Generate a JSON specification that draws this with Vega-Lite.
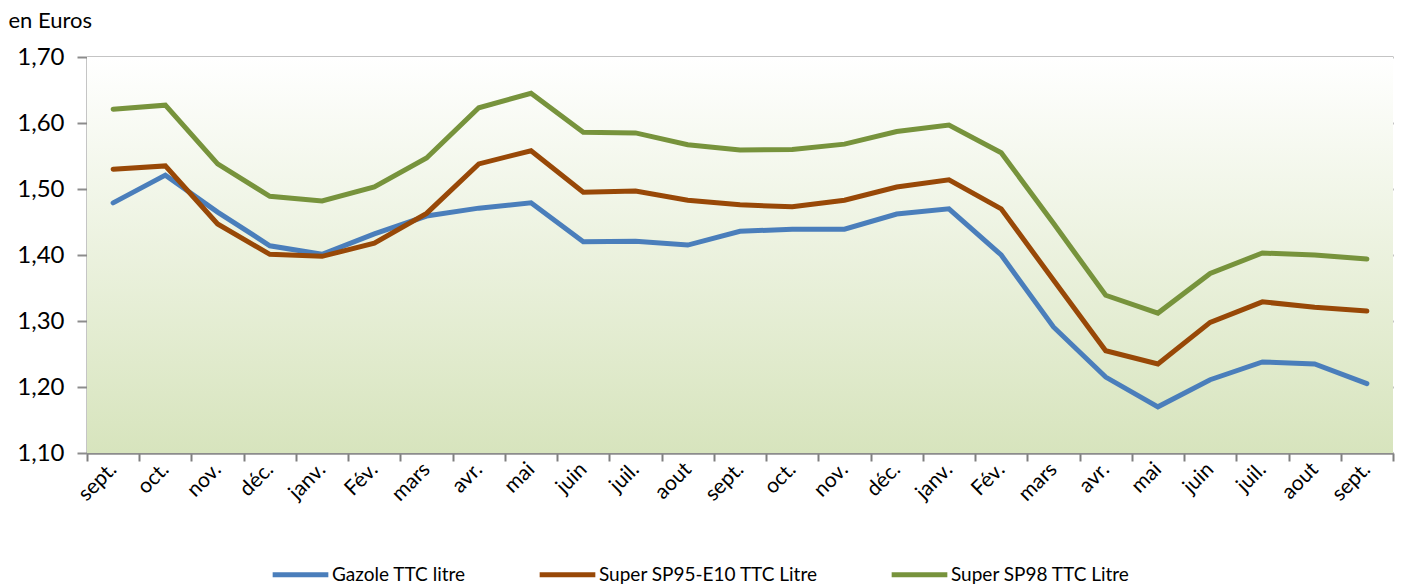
{
  "$schema": "https://vega.github.io/schema/vega-lite/v6.json",
  "width": 1306,
  "height": 396,
  "autosize": {"type": "none"},
  "padding": {"left": 87, "top": 57, "right": 9, "bottom": 133},
  "background": "white",
  "config": {
    "view": {"stroke": null},
    "font": "Lato"
  },
  "datasets": {
    "prix": [
      {"k": "sept.|0", "Gazole TTC litre": 1.479, "Super SP95-E10 TTC Litre": 1.530, "Super SP98 TTC Litre": 1.621},
      {"k": "oct.|1", "Gazole TTC litre": 1.521, "Super SP95-E10 TTC Litre": 1.535, "Super SP98 TTC Litre": 1.627},
      {"k": "nov.|2", "Gazole TTC litre": 1.465, "Super SP95-E10 TTC Litre": 1.447, "Super SP98 TTC Litre": 1.538},
      {"k": "déc.|3", "Gazole TTC litre": 1.414, "Super SP95-E10 TTC Litre": 1.401, "Super SP98 TTC Litre": 1.489},
      {"k": "janv.|4", "Gazole TTC litre": 1.401, "Super SP95-E10 TTC Litre": 1.398, "Super SP98 TTC Litre": 1.482},
      {"k": "Fév.|5", "Gazole TTC litre": 1.432, "Super SP95-E10 TTC Litre": 1.418, "Super SP98 TTC Litre": 1.503},
      {"k": "mars|6", "Gazole TTC litre": 1.459, "Super SP95-E10 TTC Litre": 1.463, "Super SP98 TTC Litre": 1.547},
      {"k": "avr.|7", "Gazole TTC litre": 1.471, "Super SP95-E10 TTC Litre": 1.538, "Super SP98 TTC Litre": 1.623},
      {"k": "mai|8", "Gazole TTC litre": 1.479, "Super SP95-E10 TTC Litre": 1.558, "Super SP98 TTC Litre": 1.645},
      {"k": "juin|9", "Gazole TTC litre": 1.420, "Super SP95-E10 TTC Litre": 1.495, "Super SP98 TTC Litre": 1.586},
      {"k": "juil.|10", "Gazole TTC litre": 1.421, "Super SP95-E10 TTC Litre": 1.497, "Super SP98 TTC Litre": 1.585},
      {"k": "aout|11", "Gazole TTC litre": 1.415, "Super SP95-E10 TTC Litre": 1.483, "Super SP98 TTC Litre": 1.567},
      {"k": "sept.|12", "Gazole TTC litre": 1.436, "Super SP95-E10 TTC Litre": 1.476, "Super SP98 TTC Litre": 1.559},
      {"k": "oct.|13", "Gazole TTC litre": 1.439, "Super SP95-E10 TTC Litre": 1.473, "Super SP98 TTC Litre": 1.560},
      {"k": "nov.|14", "Gazole TTC litre": 1.439, "Super SP95-E10 TTC Litre": 1.483, "Super SP98 TTC Litre": 1.568},
      {"k": "déc.|15", "Gazole TTC litre": 1.462, "Super SP95-E10 TTC Litre": 1.503, "Super SP98 TTC Litre": 1.587},
      {"k": "janv.|16", "Gazole TTC litre": 1.470, "Super SP95-E10 TTC Litre": 1.514, "Super SP98 TTC Litre": 1.597},
      {"k": "Fév.|17", "Gazole TTC litre": 1.400, "Super SP95-E10 TTC Litre": 1.470, "Super SP98 TTC Litre": 1.555},
      {"k": "mars|18", "Gazole TTC litre": 1.291, "Super SP95-E10 TTC Litre": 1.362, "Super SP98 TTC Litre": 1.448},
      {"k": "avr.|19", "Gazole TTC litre": 1.215, "Super SP95-E10 TTC Litre": 1.255, "Super SP98 TTC Litre": 1.339},
      {"k": "mai|20", "Gazole TTC litre": 1.170, "Super SP95-E10 TTC Litre": 1.235, "Super SP98 TTC Litre": 1.312},
      {"k": "juin|21", "Gazole TTC litre": 1.211, "Super SP95-E10 TTC Litre": 1.298, "Super SP98 TTC Litre": 1.372},
      {"k": "juil.|22", "Gazole TTC litre": 1.238, "Super SP95-E10 TTC Litre": 1.329, "Super SP98 TTC Litre": 1.403},
      {"k": "aout|23", "Gazole TTC litre": 1.235, "Super SP95-E10 TTC Litre": 1.321, "Super SP98 TTC Litre": 1.400},
      {"k": "sept.|24", "Gazole TTC litre": 1.205, "Super SP95-E10 TTC Litre": 1.315, "Super SP98 TTC Litre": 1.394}
    ]
  },
  "layer": [
    {
      "data": {"values": [{"lo": 1.1, "hi": 1.7}]},
      "mark": {
        "type": "rect",
        "fill": {
          "gradient": "linear", "x1": 0, "y1": 0, "x2": 0, "y2": 1,
          "stops": [
            {"offset": 0, "color": "#ffffff"},
            {"offset": 1, "color": "#d7e4bd"}
          ]
        }
      },
      "encoding": {
        "y": {"field": "lo", "type": "quantitative"},
        "y2": {"field": "hi"}
      }
    },
    {
      "data": {"name": "prix"},
      "transform": [
        {"fold": ["Gazole TTC litre", "Super SP95-E10 TTC Litre", "Super SP98 TTC Litre"], "as": ["serie", "prix"]}
      ],
      "mark": {"type": "line", "strokeWidth": 5, "strokeCap": "round", "strokeJoin": "miter"},
      "encoding": {
        "x": {
          "field": "k", "type": "ordinal", "sort": null,
          "bandPosition": 0.5,
          "scale": {"type": "band", "paddingInner": 0, "paddingOuter": 0},
          "axis": {
            "orient": "bottom",
            "title": null,
            "tickBand": "extent",
            "ticks": true,
            "tickSize": 8,
            "tickWidth": 2,
            "tickColor": "#7f7f7f",
            "tickOpacity": 1,
            "domain": true,
            "domainColor": "#8c8c8c",
            "domainWidth": 2,
            "grid": false,
            "labelExpr": "datum.value ? split(datum.value, '|')[0] : ''",
            "labelAngle": -45,
            "labelAlign": "right",
            "labelBaseline": "middle",
            "labelFontSize": 21,
            "labelColor": "#000000",
            "labelPadding": 5,
            "labelFont": "Lato"
          }
        },
        "y": {
          "field": "prix", "type": "quantitative",
          "scale": {"domain": [1.1, 1.7], "nice": false, "zero": false},
          "axis": {
            "values": [1.1, 1.2, 1.3, 1.4, 1.5, 1.6, 1.7],
            "labelExpr": "replace(format(datum.value, '.2f'), '.', ',')",
            "labelFontSize": 24,
            "labelColor": "#000000",
            "labelFont": "Lato",
            "labelPadding": 13,
            "tickSize": 10,
            "tickWidth": 2,
            "tickColor": "#8c8c8c",
            "domainColor": "#8c8c8c",
            "domainWidth": 2,
            "grid": true,
            "gridColor": "#8a8a8a",
            "gridWidth": 2,
            "title": "en Euros",
            "titleAngle": 0,
            "titleAlign": "left",
            "titleBaseline": "middle",
            "titleX": -79,
            "titleY": -37,
            "titleFontSize": 22,
            "titleFontWeight": "normal",
            "titleFont": "Lato",
            "titleColor": "#000000"
          }
        },
        "color": {
          "field": "serie", "type": "nominal",
          "scale": {
            "domain": ["Gazole TTC litre", "Super SP95-E10 TTC Litre", "Super SP98 TTC Litre"],
            "range": ["#4a7ebb", "#984807", "#77933c"]
          },
          "legend": {
            "orient": "none",
            "direction": "horizontal",
            "legendX": 183,
            "legendY": 487,
            "title": null,
            "padding": 0,
            "symbolType": "stroke",
            "symbolSize": 3100,
            "symbolStrokeWidth": 5,
            "labelFontSize": 19,
            "labelFont": "Lato",
            "labelColor": "#000000",
            "labelOffset": 1,
            "columnPadding": 63,
            "labelLimit": 400
          }
        }
      }
    }
  ]
}
